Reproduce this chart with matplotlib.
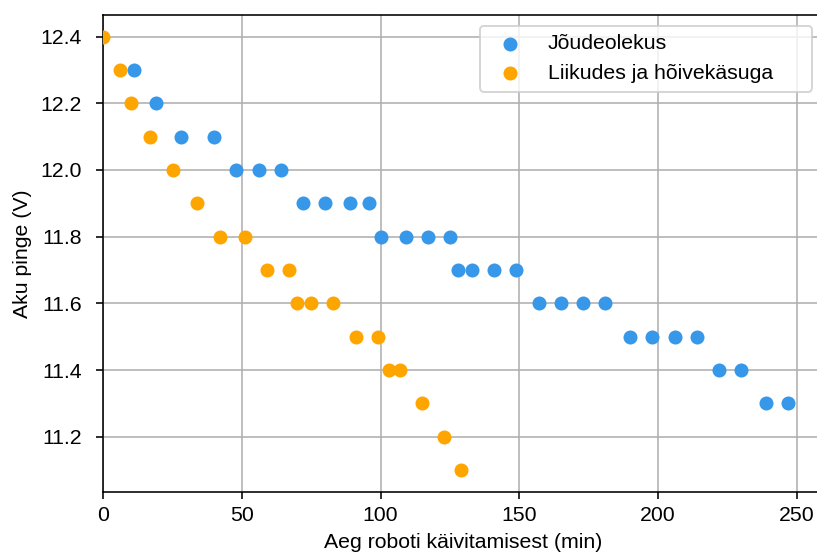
import matplotlib
matplotlib.use("Agg")
import matplotlib.pyplot as plt

plt.rcParams['font.family'] = ['Liberation Sans', 'DejaVu Sans']
plt.rcParams['font.size'] = 10.6

# idle measurements
idle_time = [11, 19, 28, 40, 48, 56, 64, 72, 80, 89, 96, 100, 109, 117, 125,
             128, 133, 141, 149, 157, 165, 173, 181, 190, 198, 206, 214, 222,
             230, 239, 247]
idle_volt = [12.3, 12.2, 12.1, 12.1, 12.0, 12.0, 12.0, 11.9, 11.9, 11.9, 11.9,
             11.8, 11.8, 11.8, 11.8, 11.7, 11.7, 11.7, 11.7, 11.6, 11.6, 11.6,
             11.6, 11.5, 11.5, 11.5, 11.5, 11.4, 11.4, 11.3, 11.3]

# moving + gripper measurements
move_time = [0, 6, 10, 17, 25, 34, 42, 51, 59, 67, 70, 75, 83, 91, 99, 103,
             107, 115, 123, 129]
move_volt = [12.4, 12.3, 12.2, 12.1, 12.0, 11.9, 11.8, 11.8, 11.7, 11.7, 11.6,
             11.6, 11.6, 11.5, 11.5, 11.4, 11.4, 11.3, 11.2, 11.1]

labels = ["Jõudeolekus", "Liikudes ja hõivekäsuga"]

fig = plt.figure(figsize=(817 / 144, 555 / 144), dpi=144)
ax = fig.add_axes([0.1263, 0.1141, 0.8805, 0.8589])

ax.scatter(idle_time, idle_volt, color="#3797e8", label=labels[0], zorder=3)
ax.scatter(move_time, move_volt, color="#ffa500", label=labels[1], zorder=3)

ax.set_xlim(left=0)
ax.set_yticks([11.2, 11.4, 11.6, 11.8, 12.0, 12.2, 12.4])
ax.tick_params(axis="y", pad=7)
ax.grid(True, color="#b0b0b0", linewidth=0.8)
ax.set_axisbelow(True)

ax.set_xlabel("Aeg roboti käivitamisest (min)")
ax.set_ylabel("Aku pinge (V)", labelpad=4.5)
# legend box is wider than its text in the original
ax.legend(loc="upper left", bbox_to_anchor=(0.5238, 0, 0.4615, 0.977),
          mode="expand", borderaxespad=0)

fig.savefig("out.png", dpi=144)
